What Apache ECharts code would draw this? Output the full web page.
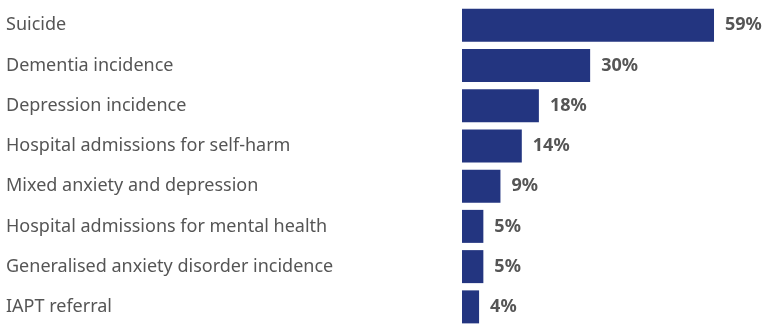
<!DOCTYPE html>
<html>
<head>
<meta charset="utf-8">
<script src="https://cdn.jsdelivr.net/npm/echarts@6/dist/echarts.min.js"></script>
<style>
  html, body { margin: 0; padding: 0; background: #fff; }
  #chart { width: 763px; height: 327px; }
</style>
</head>
<body>
<div id="chart"></div>
<script>
var categories = [
    'Suicide',
    'Dementia incidence',
    'Depression incidence',
    'Hospital admissions for self-harm',
    'Mixed anxiety and depression',
    'Hospital admissions for mental health',
    'Generalised anxiety disorder incidence',
    'IAPT referral'
];
var values = [59, 30, 18, 14, 9, 5, 5, 4];

var myChart = echarts.init(document.getElementById('chart'));

let option = {
    animation: false,
    grid: {
        left: 462,
        right: 2,
        top: 5,
        height: 326
    },
    xAxis: {
        type: 'value',
        min: 0,
        max: 70,
        show: false
    },
    yAxis: {
        type: 'category',
        inverse: true,
        data: categories,
        axisLine: { show: false },
        axisTick: { show: false },
        axisLabel: {
            align: 'left',
            margin: 456,
            color: '#555',
            fontSize: 18,
            fontFamily: 'Noto Sans'
        }
    },
    series: [
        {
            type: 'bar',
            data: values,
            barWidth: 33,
            itemStyle: { color: '#233580' },
            label: {
                show: true,
                position: 'right',
                distance: 11,
                formatter: '{c}%',
                color: '#555',
                fontSize: 18,
                fontWeight: 'bold',
                fontFamily: 'Noto Sans'
            }
        }
    ]
};

myChart.setOption(option);
</script>
</body>
</html>
